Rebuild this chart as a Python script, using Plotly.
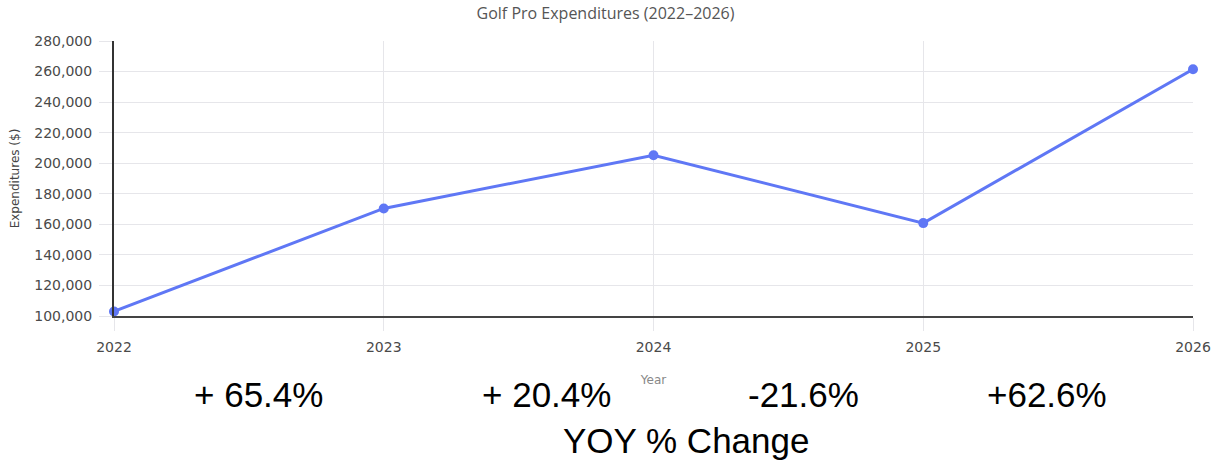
import plotly.graph_objects as go

# Annual golf pro expenditures in dollars
years = [2022, 2023, 2024, 2025, 2026]
expenditures = [103000, 170400, 205200, 160800, 261500]

# Year-over-year change labels, one per consecutive pair of years
yoy_labels = ["+ 65.4%", "+ 20.4%", "-21.6%", "+62.6%"]

y_tick_values = [100000, 120000, 140000, 160000, 180000, 200000,
                 220000, 240000, 260000, 280000]

# horizontal nudges (px) for each change label relative to the interval midpoint
label_nudge_px = [10, 28, 15, -11]

W, H = 1211, 462
ML, MR, MT, MB = 114, 18, 41, 146

grid_color = "#e6e6ea"
tick_font = dict(family="DejaVu Sans, Arial, sans-serif", size=14, color="#4a4a4a")

fig = go.Figure()
fig.add_trace(go.Scatter(
    x=years,
    y=expenditures,
    mode="lines+markers",
    line=dict(color="#5f77f5", width=3),
    marker=dict(color="#5f77f5", size=10),
    cliponaxis=False,
    showlegend=False,
    hoverinfo="x+y",
))

annotations = []
for i, label in enumerate(yoy_labels):
    mid = (years[i] + years[i + 1]) / 2
    annotations.append(dict(
        x=mid, xref="x",
        y=0, yref="paper",
        yshift=-78, yanchor="middle",
        xshift=label_nudge_px[i],
        text=label, showarrow=False,
        font=dict(family="Liberation Sans, Arial, sans-serif", size=35, color="#000000"),
    ))

annotations.append(dict(
    x=(686 - ML) / (W - ML - MR), xref="paper",
    y=0, yref="paper",
    yshift=-124, yanchor="middle",
    text="YOY % Change", showarrow=False,
    font=dict(family="Liberation Sans, Arial, sans-serif", size=35, color="#000000"),
))

fig.update_layout(
    width=W, height=H,
    margin=dict(l=ML, r=MR, t=MT, b=MB, pad=0),
    paper_bgcolor="white",
    plot_bgcolor="white",
    title=dict(
        text="Golf Pro Expenditures (2022\u20132026)",
        x=0.5, xref="container", xanchor="center",
        y=1 - 13 / H, yref="container", yanchor="middle",
        font=dict(family="Open Sans, Arial, sans-serif", size=16, color="#555555"),
    ),
    xaxis=dict(
        range=[years[0], years[-1]],
        tickvals=years,
        ticktext=[str(y) for y in years],
        automargin=False,
        showgrid=True, gridcolor=grid_color, gridwidth=1,
        ticks="outside", ticklen=13, tickcolor=grid_color, tickwidth=1,
        showline=True, linecolor="#444444", linewidth=2,
        zeroline=False,
        tickfont=tick_font,
        ticklabelstandoff=4,
        title=dict(text="Year", standoff=22,
                   font=dict(family="DejaVu Sans, Arial, sans-serif", size=12, color="#888888")),
    ),
    yaxis=dict(
        range=[100000, 280000],
        tickvals=y_tick_values,
        tickformat=",d",
        automargin=False,
        showgrid=True, gridcolor=grid_color, gridwidth=1,
        ticks="outside", ticklen=13, tickcolor=grid_color, tickwidth=1,
        showline=True, linecolor="#333333", linewidth=2,
        zeroline=False,
        tickfont=tick_font,
        ticklabelstandoff=4,
        title=dict(text="Expenditures ($)", standoff=12,
                   font=dict(family="DejaVu Sans, Arial, sans-serif", size=12, color="#444444")),
    ),
    annotations=annotations,
)

fig.write_html("out.html")
